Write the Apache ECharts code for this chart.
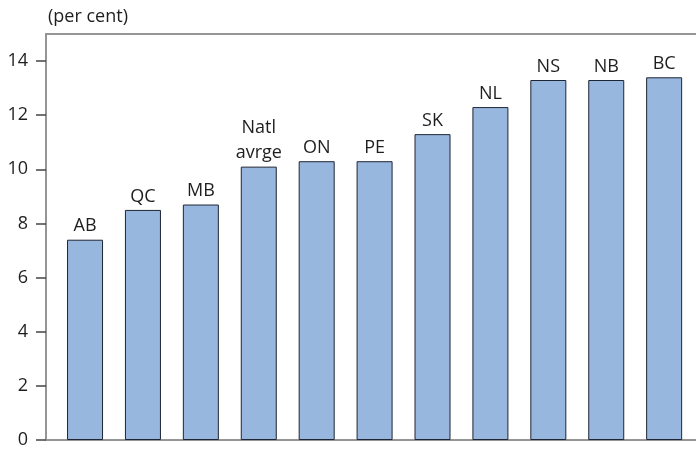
<!DOCTYPE html>
<html>
<head>
<meta charset="utf-8">
<script src="https://cdn.jsdelivr.net/npm/echarts@6/dist/echarts.min.js"></script>
<style>
  html, body { margin: 0; padding: 0; background: #fff; }
  #chart { width: 696px; height: 449px; }
</style>
</head>
<body>
<div id="chart"></div>
<script>
// Provinces and national average, sorted ascending
const categories = ['AB', 'QC', 'MB', 'Natl\navrge', 'ON', 'PE', 'SK', 'NL', 'NS', 'NB', 'BC'];
const values = [7.4, 8.5, 8.7, 10.1, 10.3, 10.3, 11.3, 12.3, 13.3, 13.3, 13.4];
const yTicks = [0, 2, 4, 6, 8, 10, 12, 14];

const chart = echarts.init(document.getElementById('chart'), null, { renderer: 'canvas' });
const fontFamily = '"Open Sans", "Noto Sans", sans-serif';
const axisGray = '#959595';
const textColor = '#1e1e1e';

// Bars sit on index positions of a numeric x scale; the plot runs off the right edge
const barData = values.map(function (v, i) { return [i, v]; });
const xMin = -0.674;
const xMax = 10.55;

chart.setOption({
  animation: false,
  textStyle: { fontFamily: fontFamily },
  title: {
    text: '(per cent)',
    left: 43,
    top: 3,
    textStyle: { fontSize: 18, fontWeight: 'normal', color: textColor, fontFamily: fontFamily }
  },
  grid: {
    left: 46, right: 0, top: 34, bottom: 7,
    show: false,
    containLabel: false
  },
  xAxis: [{
    type: 'value',
    min: xMin,
    max: xMax,
    axisLine: { show: true, onZero: false, lineStyle: { color: axisGray, width: 2 } },
    axisTick: { show: false },
    axisLabel: { show: false },
    splitLine: { show: false }
  }, {
    type: 'value',
    position: 'top',
    min: xMin,
    max: xMax,
    axisLine: { show: true, onZero: false, lineStyle: { color: axisGray, width: 2 } },
    axisTick: { show: false },
    axisLabel: { show: false },
    splitLine: { show: false }
  }],
  yAxis: {
    type: 'value',
    min: 0,
    max: 15,
    interval: 1,
    axisLine: { show: true, onZero: false, lineStyle: { color: axisGray, width: 2 } },
    axisTick: {
      show: true,
      length: 10,
      lineStyle: { color: '#444', width: 1.5 },
      customValues: yTicks
    },
    axisLabel: {
      fontSize: 18,
      color: textColor,
      margin: 18,
      customValues: yTicks
    },
    splitLine: { show: false }
  },
  series: [{
    type: 'bar',
    xAxisIndex: 0,
    data: barData,
    barWidth: 36,
    itemStyle: { color: '#98b7df', borderColor: '#1f2533', borderWidth: 1 },
    label: {
      show: true,
      position: 'top',
      distance: 1,
      fontSize: 18,
      color: textColor,
      lineHeight: 25,
      formatter: function (p) { return categories[p.dataIndex]; }
    }
  }]
});
</script>
</body>
</html>
